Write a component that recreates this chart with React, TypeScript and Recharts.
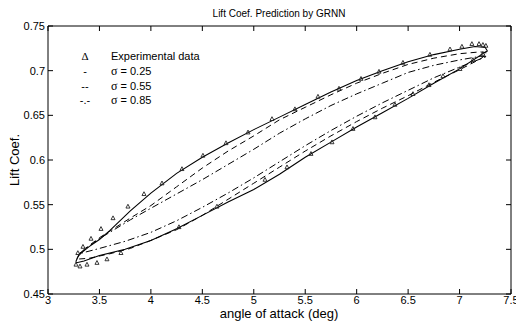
import React from "react";
import {
  ComposedChart,
  Line,
  Scatter,
  XAxis,
  YAxis,
} from "recharts";

// experimental points, [angle, lift]
const expUpper = [
  [3.29, 0.496], [3.34, 0.503], [3.418, 0.512], [3.515, 0.523], [3.632, 0.535],
  [3.777, 0.548], [3.933, 0.562], [4.108, 0.574], [4.302, 0.59], [4.506, 0.605],
  [4.73, 0.619], [4.944, 0.631], [5.177, 0.646], [5.4, 0.657], [5.624, 0.671],
  [5.828, 0.68], [6.042, 0.691], [6.217, 0.699], [6.45, 0.709], [6.712, 0.718],
  [6.907, 0.724], [7.023, 0.727], [7.12, 0.73], [7.189, 0.73], [7.227, 0.729],
  [7.256, 0.728],
];
const expLower = [
  [3.272, 0.483], [3.311, 0.481], [3.379, 0.483], [3.476, 0.485], [3.573, 0.489],
  [3.709, 0.496], [4.273, 0.525], [4.642, 0.548], [5.109, 0.578], [5.323, 0.592],
  [5.556, 0.607], [5.76, 0.62], [5.964, 0.635], [6.178, 0.648], [6.372, 0.662],
  [6.547, 0.674], [6.703, 0.684], [6.839, 0.694], [7.004, 0.702], [7.13, 0.712],
  [7.227, 0.719],
];

// sigma = 0.25 (solid)
const s25Upper = [
  [3.27, 0.486], [3.3, 0.494], [3.4, 0.503], [3.5, 0.511], [3.6, 0.521], [3.8, 0.543],
  [4.0, 0.563], [4.25, 0.585], [4.5, 0.603], [4.75, 0.619], [5.0, 0.634], [5.25, 0.648],
  [5.5, 0.662], [5.75, 0.676], [6.0, 0.689], [6.25, 0.7], [6.5, 0.71], [6.75, 0.718],
  [7.0, 0.724], [7.15, 0.727], [7.25, 0.726], [7.27, 0.722],
];
const s25Lower = [
  [7.25, 0.721], [7.2, 0.717], [7.0, 0.702], [6.75, 0.686], [6.5, 0.669], [6.25, 0.653],
  [6.0, 0.637], [5.75, 0.62], [5.5, 0.603], [5.25, 0.584], [5.0, 0.567], [4.75, 0.553],
  [4.5, 0.538], [4.25, 0.523], [4.0, 0.51], [3.75, 0.5], [3.5, 0.493], [3.35, 0.487],
  [3.28, 0.485], [3.27, 0.486],
];

// sigma = 0.55 (dashed)
const s55Upper = [
  [3.28, 0.49], [3.35, 0.5], [3.5, 0.513], [3.8, 0.535], [4.0, 0.549], [4.25, 0.57],
  [4.5, 0.591], [4.75, 0.61], [5.0, 0.627], [5.25, 0.645], [5.5, 0.659], [5.75, 0.673],
  [6.0, 0.686], [6.25, 0.697], [6.5, 0.707], [6.75, 0.714], [7.0, 0.719], [7.2, 0.721],
  [7.26, 0.72],
];
const s55Lower = [
  [7.26, 0.718], [7.2, 0.713], [7.0, 0.701], [6.75, 0.687], [6.5, 0.672], [6.25, 0.658],
  [6.0, 0.643], [5.75, 0.627], [5.5, 0.61], [5.25, 0.592], [5.0, 0.574], [4.75, 0.556],
  [4.5, 0.538], [4.25, 0.522], [4.0, 0.51], [3.8, 0.501], [3.6, 0.495], [3.4, 0.49],
  [3.28, 0.489], [3.28, 0.49],
];

// sigma = 0.85 (dash-dot)
const s85Upper = [
  [3.3, 0.495], [3.5, 0.512], [3.8, 0.533], [4.0, 0.546], [4.25, 0.562], [4.5, 0.578],
  [4.75, 0.595], [5.0, 0.612], [5.25, 0.63], [5.5, 0.646], [5.75, 0.661], [6.0, 0.674],
  [6.25, 0.686], [6.5, 0.698], [6.75, 0.706], [7.0, 0.712], [7.2, 0.716], [7.27, 0.716],
];
const s85Lower = [
  [7.27, 0.716], [7.2, 0.713], [7.0, 0.704], [6.75, 0.692], [6.5, 0.678], [6.25, 0.664],
  [6.0, 0.649], [5.75, 0.633], [5.5, 0.616], [5.25, 0.598], [5.0, 0.58], [4.75, 0.563],
  [4.5, 0.547], [4.25, 0.532], [4.0, 0.519], [3.75, 0.509], [3.5, 0.501], [3.3, 0.495],
];

const xTicks = [3, 3.5, 4, 4.5, 5, 5.5, 6, 6.5, 7, 7.5];
const yTicks = [0.45, 0.5, 0.55, 0.6, 0.65, 0.7, 0.75];

const toPts = (arr: number[][]) => arr.map(([x, y]) => ({ x, y }));
const loop = (a: number[][], b: number[][]) => toPts([...a, ...b]);

const font = "Arial, 'Liberation Sans', sans-serif";
const tickStyle = { fontSize: 11, fill: "#000", fontFamily: font };

const Tri = (props: any) => {
  const { cx, cy } = props;
  if (cx == null || cy == null) return null;
  return (
    <path
      d={`M${cx},${cy - 2.2} L${cx + 2},${cy + 1.6} L${cx - 2},${cy + 1.6} Z`}
      fill="none"
      stroke="#222"
      strokeWidth={0.9}
    />
  );
};

const legendRows = [
  { sym: "\u0394", label: "Experimental data", y: 56 },
  { sym: "-", label: "\u03c3 = 0.25", y: 71 },
  { sym: "--", label: "\u03c3 = 0.55", y: 86 },
  { sym: "-.-", label: "\u03c3 = 0.85", y: 100 },
];

export default function App() {
  return (
    <div
      style={{
        position: "absolute",
        left: 0,
        top: 0,
        width: 516,
        height: 322,
        background: "#fff",
        fontFamily: font,
        overflow: "hidden",
      }}
    >
      <div
        style={{
          position: "absolute",
          left: 0,
          width: 516,
          top: 8,
          textAlign: "center",
          fontSize: 10,
          color: "#000",
          paddingLeft: 42,
          boxSizing: "border-box",
        }}
      >
        Lift Coef. Prediction by GRNN
      </div>

      <ComposedChart
        width={516}
        height={322}
        margin={{ top: 25, right: 4, bottom: 27, left: 47 }}
        style={{ overflow: "visible" }}
      >
        <XAxis
          type="number"
          dataKey="x"
          domain={[3, 7.5]}
          ticks={xTicks}
          height={1}
          tickSize={-5}
          tickMargin={7}
          stroke="#000"
          tick={tickStyle}
          interval={0}
          allowDataOverflow
        />
        <XAxis
          xAxisId="t"
          orientation="top"
          type="number"
          dataKey="x"
          domain={[3, 7.5]}
          ticks={xTicks}
          height={1}
          tickSize={-5}
          stroke="#000"
          tickFormatter={() => ""}
          interval={0}
          allowDataOverflow
        />
        <YAxis
          type="number"
          dataKey="y"
          domain={[0.45, 0.75]}
          ticks={yTicks}
          width={1}
          tickSize={-5}
          tickMargin={8}
          stroke="#000"
          tick={tickStyle}
          interval={0}
          tickFormatter={(v: number) => String(Number(v.toFixed(2)))}
          allowDataOverflow
        />
        <YAxis
          yAxisId="r"
          orientation="right"
          type="number"
          dataKey="y"
          domain={[0.45, 0.75]}
          ticks={yTicks}
          width={1}
          tickSize={-5}
          stroke="#000"
          tickFormatter={() => ""}
          interval={0}
          allowDataOverflow
        />

        <Line
          data={loop(s25Upper, s25Lower)}
          dataKey="y"
          type="linear"
          stroke="#000"
          strokeWidth={1.1}
          dot={false}
          isAnimationActive={false}
        />
        <Line
          data={loop(s55Upper, s55Lower)}
          dataKey="y"
          type="linear"
          stroke="#000"
          strokeWidth={1}
          strokeDasharray="6 4"
          dot={false}
          isAnimationActive={false}
        />
        <Line
          data={loop(s85Upper, s85Lower)}
          dataKey="y"
          type="linear"
          stroke="#000"
          strokeWidth={1}
          strokeDasharray="7 3 1.5 3"
          dot={false}
          isAnimationActive={false}
        />
        <Scatter
          data={toPts([...expUpper, ...expLower])}
          dataKey="y"
          shape={<Tri />}
          isAnimationActive={false}
        />
      </ComposedChart>

      {legendRows.map((r) => (
        <React.Fragment key={r.label}>
          <div
            style={{
              position: "absolute",
              left: 78,
              width: 14,
              top: r.y - 7,
              textAlign: "center",
              fontSize: 11,
              lineHeight: "14px",
              fontFamily: r.sym === "\u0394" ? "'Liberation Serif', serif" : font,
            }}
          >
            {r.sym}
          </div>
          <div
            style={{
              position: "absolute",
              left: 111,
              top: r.y - 7,
              fontSize: 11,
              lineHeight: "14px",
              whiteSpace: "nowrap",
            }}
          >
            {r.label.startsWith("\u03c3") ? (
              <>
                <span style={{ fontFamily: "'Liberation Serif', serif", fontSize: 12 }}>
                  {"\u03c3"}
                </span>
                {r.label.slice(1)}
              </>
            ) : (
              r.label
            )}
          </div>
        </React.Fragment>
      ))}

      <div
        style={{
          position: "absolute",
          left: 0,
          width: 516,
          top: 307,
          paddingLeft: 42,
          boxSizing: "border-box",
          textAlign: "center",
          fontSize: 13,
          lineHeight: "13px",
        }}
      >
        angle of attack (deg)
      </div>
      <div
        style={{
          position: "absolute",
          left: 15,
          top: 160,
          fontSize: 13,
          lineHeight: "16px",
          whiteSpace: "nowrap",
          transform: "translate(-50%, -50%) rotate(-90deg)",
        }}
      >
        Lift Coef.
      </div>
    </div>
  );
}
